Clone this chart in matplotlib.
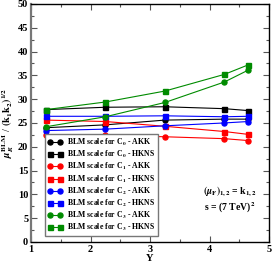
import numpy as np
import matplotlib
matplotlib.use("Agg")
import matplotlib.pyplot as plt
from matplotlib.ticker import MultipleLocator

plt.rcParams['font.family'] = ['Liberation Serif', 'DejaVu Serif']
plt.rcParams['font.weight'] = 'bold'
plt.rcParams['mathtext.fontset'] = 'stix'

# --- dati ---
Y = [1.25, 2.25, 3.25, 4.25, 4.65]
c0_akk = [24.0, 24.6, 25.6, 25.8, 25.8]
c0_hkns = [27.8, 28.3, 28.4, 28.0, 27.6]
c1_akk = [22.5, 22.4, 22.1, 21.7, 21.3]
c1_hkns = [25.6, 25.3, 24.3, 23.2, 22.6]
c2_akk = [23.4, 23.7, 24.4, 25.0, 25.3]
c2_hkns = [26.4, 26.4, 26.5, 26.3, 26.4]
c3_akk = [24.2, 26.3, 29.3, 33.6, 36.1]
c3_hkns = [27.8, 29.4, 31.7, 35.2, 37.2]

series = [
    (c0_akk, 'black', 'o', r'BLM scale for C$_\mathbf{0}$ - AKK'),
    (c0_hkns, 'black', 's', r'BLM scale for C$_\mathbf{0}$ - HKNS'),
    (c1_akk, '#ff0000', 'o', r'BLM scale for C$_\mathbf{1}$ - AKK'),
    (c1_hkns, '#ff0000', 's', r'BLM scale for C$_\mathbf{1}$ - HKNS'),
    (c2_akk, '#0000ff', 'o', r'BLM scale for C$_\mathbf{2}$ - AKK'),
    (c2_hkns, '#0000ff', 's', r'BLM scale for C$_\mathbf{2}$ - HKNS'),
    (c3_akk, '#008b00', 'o', r'BLM scale for C$_\mathbf{3}$ - AKK'),
    (c3_hkns, '#008b00', 's', r'BLM scale for C$_\mathbf{3}$ - HKNS'),
]

fig = plt.figure(figsize=(2.72, 2.63), dpi=100)
ax = fig.add_axes([0.114, 0.080, 0.875, 0.905])

for vals, col, mk, lab in series:
    ax.plot(Y, vals, color=col, marker=mk, markersize=3.6, linewidth=0.8, label=lab)

ax.set_xlim(1, 5)
ax.set_ylim(0, 50)
ax.xaxis.set_major_locator(MultipleLocator(1))
ax.xaxis.set_minor_locator(MultipleLocator(0.5))
ax.yaxis.set_major_locator(MultipleLocator(5))
ax.yaxis.set_minor_locator(MultipleLocator(2.5))
ax.tick_params(which='both', direction='in', top=True, right=True, labelsize=7.5, pad=2)
ax.tick_params(which='major', length=4, width=0.8, color='#555555')
ax.tick_params(which='minor', length=2, width=0.8, color='#555555')
for lbl in ax.get_xticklabels() + ax.get_yticklabels():
    lbl.set_fontweight('bold')
for sp in ax.spines.values():
    sp.set_linewidth(1.0)
ax.spines['left'].set_color('#777777')
ax.spines['left'].set_linewidth(1.6)

ax.set_xlabel('Y', fontsize=7.5, fontweight='bold', labelpad=0)
ax.set_ylabel(r'$\mu_R^{\mathrm{BLM}}$ / $(\mathrm{k}_1\mathrm{k}_2)^{1/2}$', fontsize=7.5, labelpad=1)

leg = ax.legend(loc='lower left', bbox_to_anchor=(0.042, 0.008), fontsize=5.6, numpoints=2,
                handlelength=1.9, labelspacing=0.12, borderpad=0.4, handletextpad=0.5,
                fancybox=False, frameon=True, framealpha=1.0)
leg.get_frame().set_edgecolor('#777777')
leg.get_frame().set_linewidth(1.0)
for t in leg.get_texts():
    t.set_fontweight('bold')

ax.text(0.835, 0.21, r'$(\mu_\mathrm{F})_{1,2}$ = k$_{1,2}$', transform=ax.transAxes,
        fontsize=7, ha='center', va='center', fontweight='bold')
ax.text(0.835, 0.145, r's = (7 TeV)$^2$', transform=ax.transAxes,
        fontsize=7, ha='center', va='center', fontweight='bold')

fig.savefig('out.png', dpi=100)
